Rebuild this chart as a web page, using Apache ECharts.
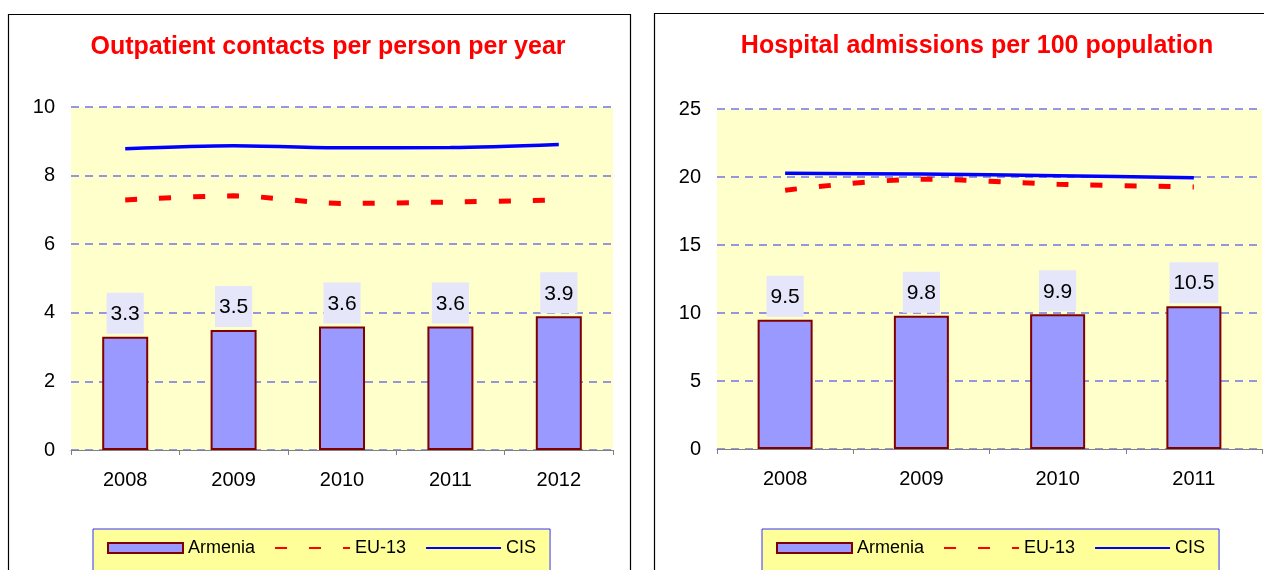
<!DOCTYPE html>
<html>
<head>
<meta charset="utf-8">
<script src="https://cdn.jsdelivr.net/npm/echarts@6/dist/echarts.min.js"></script>
<style>
  html, body { margin: 0; padding: 0; background: #ffffff; }
  #main { width: 1264px; height: 570px; }
</style>
</head>
<body>
<div id="main"></div>
<script>
// 数据：门诊次数（左图）
const years1 = ['2008', '2009', '2010', '2011', '2012'];
const outArmenia = [3.3, 3.5, 3.6, 3.6, 3.9];
const outEU13 = [7.29, 7.41, 7.19, 7.23, 7.29];
const outCIS = [8.78, 8.87, 8.81, 8.82, 8.91];

// 数据：住院率（右图）
const years2 = ['2008', '2009', '2010', '2011'];
const hospArmenia = [9.5, 9.8, 9.9, 10.5];
const hospEU13 = [19.03, 19.84, 19.47, 19.27];
const hospCIS = [20.27, 20.22, 20.1, 19.95];

// y轴刻度
const yAxis1 = { min: 0, max: 10, interval: 2 };
const yAxis2 = { min: 0, max: 25, interval: 5 };

const titles = ['Outpatient contacts per person per year', 'Hospital admissions per 100 population'];
const legendNames = ['Armenia', 'EU-13', 'CIS'];

const FONT = 'Arial, "Liberation Sans", sans-serif';

const chart = echarts.init(document.getElementById('main'));

function xAxisCfg(data, gridIndex) {
    return {
        type: 'category',
        gridIndex: gridIndex,
        data: data,
        axisLine: { lineStyle: { color: '#808080', width: 1 } },
        axisTick: { show: true, alignWithLabel: false, length: 5, lineStyle: { color: '#808080' } },
        axisLabel: { color: '#000', fontSize: 20, fontFamily: FONT, margin: 20 },
        splitLine: { show: false }
    };
}

function yAxisCfg(range, gridIndex) {
    return {
        type: 'value',
        gridIndex: gridIndex,
        min: range.min,
        max: range.max,
        interval: range.interval,
        axisLine: { show: false },
        axisTick: { show: false },
        axisLabel: { color: '#000', fontSize: 20, fontFamily: FONT, margin: 16 },
        splitLine: { lineStyle: { color: '#7474e4', width: 1.5, type: [8, 6] } }
    };
}

function barSeries(values, idx, width) {
    return {
        name: 'Armenia',
        type: 'bar',
        xAxisIndex: idx,
        yAxisIndex: idx,
        data: values,
        barWidth: width,
        itemStyle: { color: '#9999ff', borderColor: '#800000', borderWidth: 2 },
        label: {
            show: true,
            position: 'top',
            distance: 3,
            color: '#000',
            fontSize: 21,
            fontFamily: FONT,
            lineHeight: 21,
            backgroundColor: '#e6e6fa',
            padding: [11, 4, 9, 4]
        },
        z: 2
    };
}

function euSeries(values, idx) {
    return {
        name: 'EU-13',
        type: 'line',
        xAxisIndex: idx,
        yAxisIndex: idx,
        data: values,
        smooth: 0.3,
        symbol: 'none',
        itemStyle: { color: '#ff0000' },
        lineStyle: { color: '#ff0000', width: 5, type: [12, 22], cap: 'butt' },
        z: 3
    };
}

function cisSeries(values, idx) {
    return {
        name: 'CIS',
        type: 'line',
        xAxisIndex: idx,
        yAxisIndex: idx,
        data: values,
        smooth: 0.3,
        symbol: 'none',
        itemStyle: { color: '#0000ff' },
        lineStyle: { color: '#0000ff', width: 3.5 },
        z: 4
    };
}

function legendCfg(left) {
    return {
        // 折线图例不显示圆点，柱子图例用直角矩形
        data: legendNames.map(n => n === 'Armenia'
            ? { name: n, icon: 'rect' }
            : { name: n, itemStyle: { opacity: 0 } }),
        left: left,
        top: 529,
        orient: 'horizontal',
        itemWidth: 75,
        itemHeight: 10,
        itemGap: 19,
        padding: [10, 14, 40, 14],
        backgroundColor: '#ffff99',
        borderColor: '#3333ff',
        borderWidth: 1,
        borderRadius: 0,
        selectedMode: false,
        textStyle: { color: '#000', fontSize: 18, fontFamily: FONT }
    };
}

const option = {
    animation: false,
    backgroundColor: '#ffffff',
    title: [
        {
            text: titles[0], left: 328, top: 35, textAlign: 'center', padding: 0,
            textStyle: { color: '#ff0000', fontSize: 25, fontWeight: 'bold', fontFamily: FONT }
        },
        {
            text: titles[1], left: 977, top: 34, textAlign: 'center', padding: 0,
            textStyle: { color: '#ff0000', fontSize: 25, fontWeight: 'bold', fontFamily: FONT }
        }
    ],
    legend: [legendCfg(93), legendCfg(762)],
    grid: [
        { left: 71, right: 651, top: 107, bottom: 120, show: true, backgroundColor: '#ffffcc', borderWidth: 0 },
        { left: 717, right: 2, top: 109, bottom: 121, show: true, backgroundColor: '#ffffcc', borderWidth: 0 }
    ],
    xAxis: [xAxisCfg(years1, 0), xAxisCfg(years2, 1)],
    yAxis: [yAxisCfg(yAxis1, 0), yAxisCfg(yAxis2, 1)],
    series: [
        barSeries(outArmenia, 0, 46),
        euSeries(outEU13, 0),
        cisSeries(outCIS, 0),
        barSeries(hospArmenia, 1, 55),
        euSeries(hospEU13, 1),
        cisSeries(hospCIS, 1)
    ],
    graphic: [
        {
            type: 'rect', silent: true, z: 100,
            shape: { x: 8.5, y: 14.5, width: 622, height: 600 },
            style: { fill: 'none', stroke: '#000', lineWidth: 1.2 }
        },
        {
            type: 'rect', silent: true, z: 100,
            shape: { x: 654.5, y: 13.5, width: 700, height: 600 },
            style: { fill: 'none', stroke: '#000', lineWidth: 1.2 }
        }
    ]
};

chart.setOption(option);

window.addEventListener('resize', function () {
    chart.resize();
});
</script>
</body>
</html>
